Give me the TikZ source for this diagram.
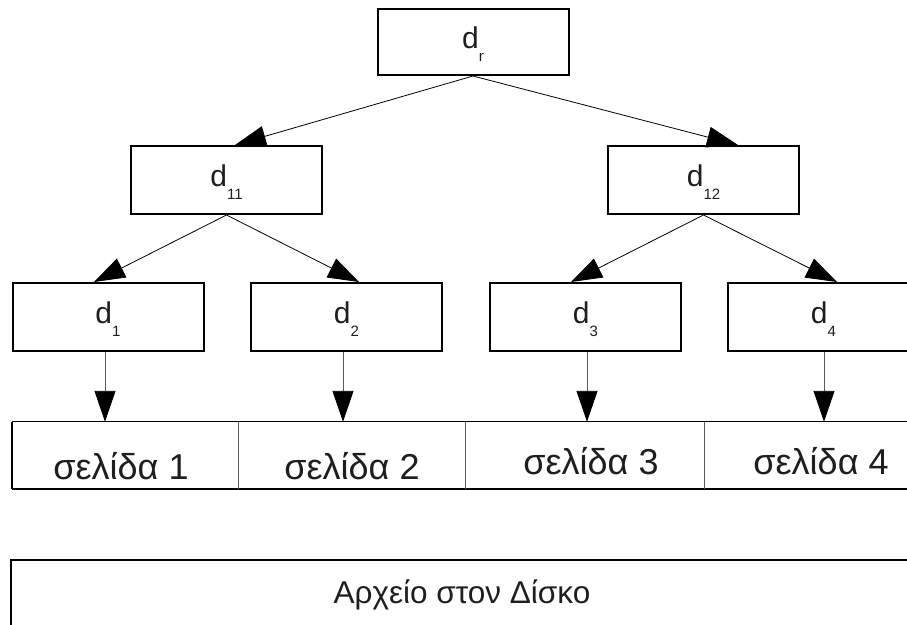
\documentclass[tikz,border=0pt]{standalone}
\usepackage{fontspec}
\setmainfont{Liberation Sans}
\usetikzlibrary{arrows.meta,calc}
\definecolor{ink}{HTML}{1E1E1E}
\definecolor{rule}{HTML}{5A5A5A}
% label "d" with a lowered subscript
\newcommand\dsub[1]{d\raisebox{-13pt}{\fontsize{15}{15}\selectfont #1}}
\begin{document}
\begin{tikzpicture}[x=1pt,y=-1pt,
  blk/.style={draw=black, line width=2pt, rectangle, inner sep=0pt,
    minimum width=191pt, minimum height=68pt,
    text height=12pt, text depth=0pt, text=ink,
    font=\fontsize{30}{30}\selectfont},
  seg/.style={rectangle, inner sep=0pt, minimum height=67pt},
  pagetext/.style={anchor=base, inner sep=0pt, text=ink,
    font=\fontsize{36}{36}\selectfont},
  link/.style={line width=0.8pt, draw=black,
    -{Triangle[length=31pt,width=21pt]}},
  drop/.style={line width=0.9pt, draw=rule,
    -{Triangle[length=31pt,width=21pt,fill=black,color=black]}}
]
\useasboundingbox (0,0) rectangle (907,624);
\clip (0,0) rectangle (907,624);

% tree of directory nodes
\node[blk, minimum height=66pt] (dr) at (473,42) {\dsub{r}};
\node[blk] (d11) at (226.5,180) {\dsub{11}};
\node[blk] (d12) at (703.5,180) {\dsub{12}};
\node[blk] (d1) at (108,317) {\dsub{1}};
\node[blk] (d2) at (346.5,317) {\dsub{2}};
\node[blk] (d3) at (585.5,317) {\dsub{3}};
\node[blk] (d4) at (823.5,317) {\dsub{4}};

% row of pages
\node[seg, minimum width=226pt] (p1) at (125,455.5) {};
\node[seg, minimum width=227pt] (p2) at (351.5,455.5) {};
\node[seg, minimum width=239pt] (p3) at (584.5,455.5) {};
\node[seg, minimum width=239pt] (p4) at (823.5,455.5) {};
\draw[line width=1pt] (p1.north west) -- (p4.north east);
\draw[line width=2.2pt] (p1.south west) -- (p4.south east);
\draw[line width=1.8pt] (p1.north west) -- (p1.south west);
\foreach \p in {p1,p2,p3}
  \draw[line width=0.8pt, rule] (\p.north east) -- (\p.south east);
\node[pagetext] (t1) at (121,479) {σελίδα 1};
\node[pagetext] (t2) at (352,479) {σελίδα 2};
\node[pagetext] (t3) at (591,474) {σελίδα 3};
\node[pagetext] (t4) at (821,474) {σελίδα 4};

% file on disk
\node[draw=black, line width=2pt, rectangle, inner sep=0pt,
  minimum width=909pt, minimum height=120pt] (disk) at (465.5,620) {};
\node[anchor=base, inner sep=0pt, text=ink,
  font=\fontsize{31.5}{31.5}\selectfont] (disklabel) at (462,603)
  {Αρχείο στον Δίσκο};

% links between levels
\draw[link] (dr.south) -- ($(d11.north)+(8.5,0)$);
\draw[link] (dr.south) -- ($(d12.north)+(34.5,0)$);
\draw[link] (d11.south) -- ($(d1.north)+(-14,0)$);
\draw[link] (d11.south) -- ($(d2.north)+(12.5,0)$);
\draw[link] (d12.south) -- ($(d3.north)+(-14.5,0)$);
\draw[link] (d12.south) -- ($(d4.north)+(13.5,0)$);

% each leaf points to its page
\coordinate (s1) at ($(d1.south)+(-3,0)$);
\coordinate (s2) at ($(d2.south)+(-3.5,0)$);
\coordinate (s3) at ($(d3.south)+(1.5,0)$);
\coordinate (s4) at ($(d4.south)+(0.5,0)$);
\draw[drop] (s1) -- (s1 |- p1.north);
\draw[drop] (s2) -- (s2 |- p2.north);
\draw[drop] (s3) -- (s3 |- p3.north);
\draw[drop] (s4) -- (s4 |- p4.north);
\end{tikzpicture}
\end{document}
